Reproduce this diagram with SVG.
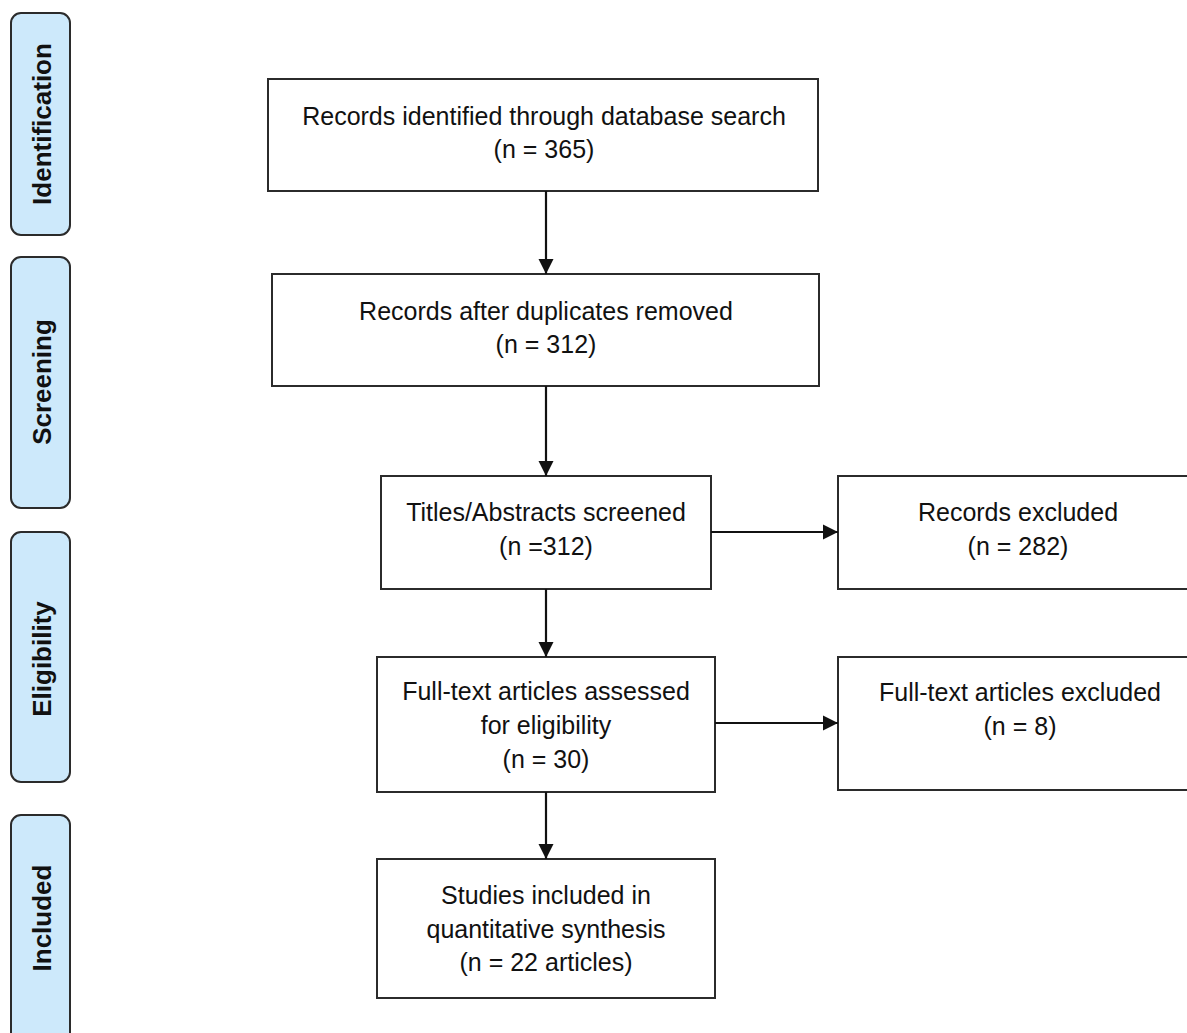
<svg xmlns="http://www.w3.org/2000/svg" width="1187" height="1033" viewBox="0 0 1187 1033">
<style>
.box{fill:#fff;stroke:#2b2b2b;stroke-width:2}
.stage{fill:#cde9fb;stroke:#2b2b2b;stroke-width:2}
.t{font-family:"Liberation Sans",Arial,sans-serif;font-size:25px;fill:#111;text-anchor:middle}
.s{font-family:"Liberation Sans",Arial,sans-serif;font-size:26px;font-weight:bold;fill:#111;text-anchor:middle}
.c{stroke:#111;stroke-width:2.2;fill:none;marker-end:url(#ah)}
</style>
<defs>
<marker id="ah" viewBox="0 0 10 10" refX="10" refY="5" markerWidth="7" markerHeight="7" markerUnits="strokeWidth" orient="auto">
<path d="M0,0 L10,5 L0,10 Z" fill="#111"/>
</marker>
</defs>
<rect width="1187" height="1033" fill="#fff"/>
<g id="stage-identification"><rect class="stage" x="11" y="13" width="59" height="222" rx="10"/><text class="s" transform="translate(51,124) rotate(-90)">Identification</text></g>
<g id="stage-screening"><rect class="stage" x="11" y="257" width="59" height="251" rx="10"/><text class="s" transform="translate(51,382) rotate(-90)">Screening</text></g>
<g id="stage-eligibility"><rect class="stage" x="11" y="532" width="59" height="250" rx="10"/><text class="s" transform="translate(51,659) rotate(-90)">Eligibility</text></g>
<g id="stage-included"><rect class="stage" x="11" y="815" width="59" height="240" rx="10"/><text class="s" transform="translate(51,918) rotate(-90)">Included</text></g>
<g id="identified"><rect class="box" x="268" y="79" width="550" height="112"/><text class="t" x="544" y="125">Records identified through database search</text><text class="t" x="544" y="158">(n = 365)</text></g>
<g id="dedup"><rect class="box" x="272" y="274" width="547" height="112"/><text class="t" x="546" y="320">Records after duplicates removed</text><text class="t" x="546" y="353">(n = 312)</text></g>
<g id="screened"><rect class="box" x="381" y="476" width="330" height="113"/><text class="t" x="546" y="521">Titles/Abstracts screened</text><text class="t" x="546" y="555">(n =312)</text></g>
<g id="excluded1"><rect class="box" x="838" y="476" width="360" height="113"/><text class="t" x="1018" y="521">Records excluded</text><text class="t" x="1018" y="555">(n = 282)</text></g>
<g id="fulltext"><rect class="box" x="377" y="657" width="338" height="135"/><text class="t" x="546" y="700">Full-text articles assessed</text><text class="t" x="546" y="734">for eligibility</text><text class="t" x="546" y="768">(n = 30)</text></g>
<g id="excluded2"><rect class="box" x="838" y="657" width="360" height="133"/><text class="t" x="1020" y="701">Full-text articles excluded</text><text class="t" x="1020" y="735">(n = 8)</text></g>
<g id="included"><rect class="box" x="377" y="859" width="338" height="139"/><text class="t" x="546" y="904">Studies included in</text><text class="t" x="546" y="938">quantitative synthesis</text><text class="t" x="546" y="971">(n = 22 articles)</text></g>
<g id="connectors">
<path class="c" d="M546,191 V274"/>
<path class="c" d="M546,386 V476"/>
<path class="c" d="M546,589 V657"/>
<path class="c" d="M546,792 V859"/>
<path class="c" d="M711,532 H838"/>
<path class="c" d="M715,723 H838"/>
</g>
</svg>
